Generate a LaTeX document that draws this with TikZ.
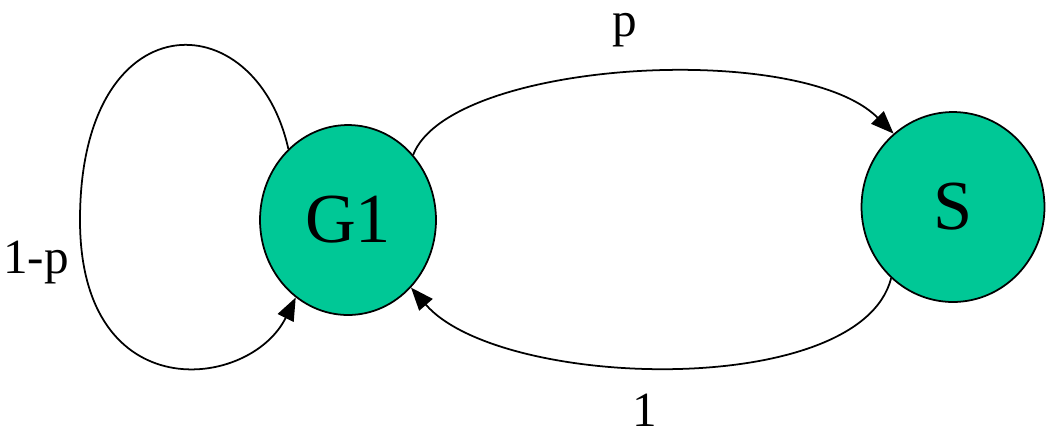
\documentclass[tikz,border=0pt]{standalone}
\usepackage{fontspec}
\setmainfont{Liberation Serif}
\usetikzlibrary{shapes.geometric,arrows.meta}
\definecolor{st}{HTML}{00C896}
\begin{document}
\begin{tikzpicture}[x=0.02cm,y=-0.02cm,
  state/.style={ellipse,draw,line width=1pt,fill=st,font=\fontsize{40}{44}\selectfont,inner sep=0pt},
  edge/.style={line width=1pt,-{Triangle[length=13pt,width=10pt]}},
  lab/.style={font=\fontsize{28}{32}\selectfont}]
\useasboundingbox (0,0) rectangle (1052,441);
\node[state,minimum width=3.52cm,minimum height=3.8cm] (g1) at (348,220) {G1};
\node[state,minimum width=3.66cm,minimum height=3.8cm] (s) at (953,207) {S};
\draw[edge] (g1.45) .. controls (450,60) and (800,40) .. (s.129);
\draw[edge] (s.229) .. controls (860,400) and (500,390) .. (g1.313);
\draw[edge] (g1.130) .. controls (255,0) and (80,0) .. (80,220) .. controls (80,410) and (250,390) .. (g1.236);
\node[lab] (lp) at (625,30) {p};
\node[lab] (l1) at (645,410) {1};
\node[lab] (l1p) at (36,262) {1-p};
\end{tikzpicture}
\end{document}
